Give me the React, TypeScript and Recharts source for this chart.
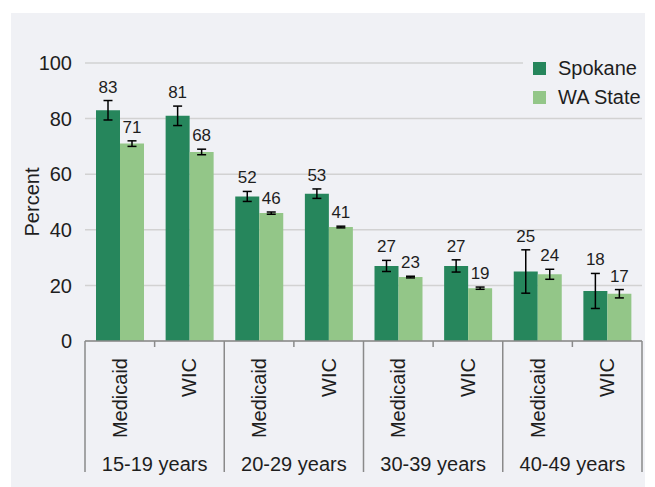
import React from "react";
import { BarChart, Bar, XAxis, YAxis, CartesianGrid, ErrorBar, LabelList, Legend } from "recharts";

const groups = ["15-19 years", "20-29 years", "30-39 years", "40-49 years"];
const programs = ["Medicaid", "WIC"];
const spokane = [83, 81, 52, 53, 27, 27, 25, 18];
const spokaneErr = [3.5, 3.5, 1.8, 1.7, 2, 2.2, 7.8, 6.3];
const waState = [71, 68, 46, 41, 23, 19, 24, 17];
const waStateErr = [1, 1, 0.4, 0.3, 0.3, 0.4, 1.8, 1.5];
const yTicks = [0, 20, 40, 60, 80, 100];

const rows = groups.flatMap((g, gi) =>
  programs.map((p, pi) => {
    const i = gi * programs.length + pi;
    return {
      key: `${g}|${p}`,
      group: g,
      program: p,
      spokane: spokane[i],
      spokaneErr: spokaneErr[i],
      wa: waState[i],
      waErr: waStateErr[i],
    };
  })
);

const W = 655;
const H = 487;
const MARGIN = { top: 63, right: 13, left: 0, bottom: 0 };
const YAXIS_W = 85;
const BAND = (W - MARGIN.left - MARGIN.right - YAXIS_W) / rows.length;

const DARK = "#26865c";
const LIGHT = "#93c688";
const BG = "#f0f1f5";
const AXIS = "#8a8a8a";
const TEXT = "#1e1e1e";
const FONT = "'Liberation Sans', Arial, sans-serif";

function ProgramTick(props: any) {
  const { x, y, index } = props;
  const row = rows[index];
  const half = BAND / 2;
  const bottom = y + 131;
  const last = index % 2 === 1;
  return (
    <g>
      <text
        transform={`translate(${x},${y + 17}) rotate(-90)`}
        textAnchor="end"
        dominantBaseline="central"
        fontSize={20}
        fill={TEXT}
        fontFamily={FONT}
      >
        {row.program}
      </text>
      {index === 0 && (
        <line x1={x - half} x2={x - half} y1={y} y2={bottom} stroke={AXIS} strokeWidth={1.5} />
      )}
      <line x1={x + half} x2={x + half} y1={y} y2={last ? bottom : y + 6} stroke={AXIS} strokeWidth={1.5} />
      {!last && (
        <text x={x + half} y={y + 129.5} textAnchor="middle" fontSize={20} fill={TEXT} fontFamily={FONT}>
          {row.group}
        </text>
      )}
    </g>
  );
}

// value label sits just above the top of the error bar
const makeLabel = (errs: number[]) => (props: any) => {
  const { x, y, width, height, value, index } = props;
  const perUnit = height / value;
  const top = y - errs[index] * perUnit;
  return (
    <text x={x + width / 2} y={top - 8} textAnchor="middle" fontSize={17} fill={TEXT} fontFamily={FONT}>
      {value}
    </text>
  );
};

function LegendBox(props: any) {
  const { payload } = props;
  return (
    <div style={{ background: BG, paddingLeft: 10, fontFamily: FONT }}>
      {(payload || []).map((e: any) => (
        <div key={e.value} style={{ display: "flex", alignItems: "center", height: 29 }}>
          <span style={{ width: 13, height: 13, background: e.color, marginRight: 12, display: "inline-block" }} />
          <span style={{ fontSize: 20, color: TEXT }}>{e.value}</span>
        </div>
      ))}
    </div>
  );
}

export default function App() {
  return (
    <div style={{ position: "absolute", left: 0, top: 0, width: W, height: H, background: "#fff" }}>
      <div style={{ position: "absolute", left: 11, top: 13, width: 634, height: 474, background: BG }} />
      <div style={{ position: "absolute", left: 0, top: 0 }}>
        <BarChart width={W} height={H} data={rows} margin={MARGIN} barGap={0} barCategoryGap="15%">
          <CartesianGrid horizontal vertical={false} stroke="#d2d2d2" strokeWidth={1.5} />
          <YAxis
            width={YAXIS_W}
            domain={[0, 100]}
            ticks={yTicks}
            axisLine={false}
            tickLine={false}
            tickSize={0}
            tickMargin={13}
            tick={{ fontSize: 20, fill: TEXT, fontFamily: FONT }}
            label={{
              value: "Percent",
              angle: -90,
              position: "insideLeft",
              offset: 32,
              style: { textAnchor: "middle", fontSize: 20, fill: TEXT, fontFamily: FONT },
            }}
          />
          <XAxis
            dataKey="key"
            height={H - 341}
            interval={0}
            tickLine={false}
            tickSize={0}
            tickMargin={0}
            axisLine={{ stroke: AXIS, strokeWidth: 1.5 }}
            tick={<ProgramTick />}
          />
          <Legend
            layout="vertical"
            align="center"
            verticalAlign="middle"
            wrapperStyle={{ top: 54, left: 523, width: 122 }}
            content={<LegendBox />}
          />
          <Bar dataKey="spokane" name="Spokane" fill={DARK} barSize={24} isAnimationActive={false}>
            <ErrorBar dataKey="spokaneErr" width={4.5} stroke="#000" strokeWidth={1.5} />
            <LabelList dataKey="spokane" content={makeLabel(spokaneErr)} />
          </Bar>
          <Bar dataKey="wa" name="WA State" fill={LIGHT} barSize={24} isAnimationActive={false}>
            <ErrorBar dataKey="waErr" width={4.5} stroke="#000" strokeWidth={1.5} />
            <LabelList dataKey="wa" content={makeLabel(waStateErr)} />
          </Bar>
        </BarChart>
      </div>
    </div>
  );
}
